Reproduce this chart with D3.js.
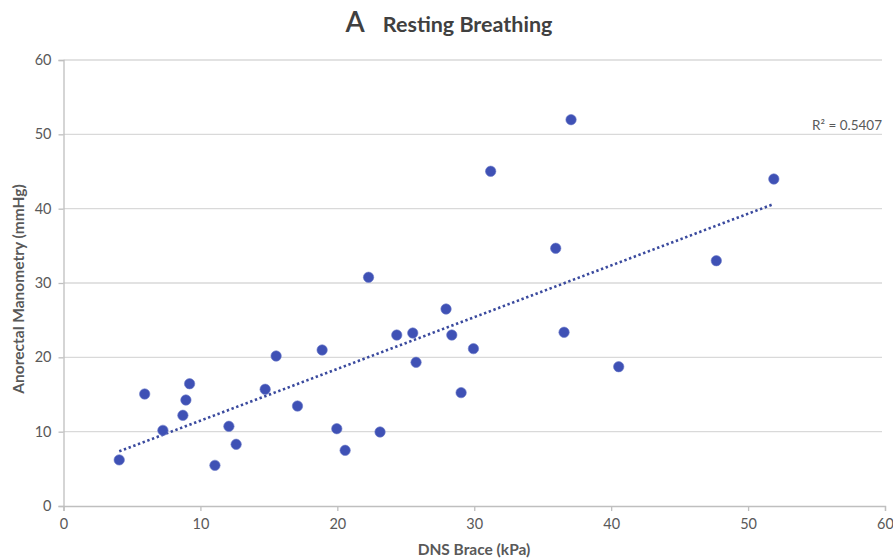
<!DOCTYPE html>
<html>
<head>
<meta charset="utf-8">
<script src="https://cdn.jsdelivr.net/npm/d3@7"></script>
<style>
  html, body { margin: 0; padding: 0; background: #fff; }
  svg { display: block; }
</style>
</head>
<body>
<svg id="chart" width="893" height="560"></svg>
<script>
// DNS Brace (kPa) readings
const braceKPa = [4.07, 5.93, 7.26, 8.72, 8.94, 9.21, 11.06, 12.08, 12.61, 14.73,
  15.53, 17.09, 18.89, 19.96, 20.57, 22.28, 23.12, 24.34, 25.51, 25.75,
  27.94, 28.36, 29.04, 29.94, 31.2, 35.95, 36.56, 37.07, 40.55, 47.68, 51.88];
// Anorectal manometry (mmHg) for the same subjects
const manometryMmHg = [6.2, 15.07, 10.18, 12.2, 14.26, 16.45, 5.47, 10.72, 8.3, 15.7,
  20.18, 13.45, 20.99, 10.4, 7.49, 30.77, 9.96, 23.0, 23.27, 19.33,
  26.5, 23.0, 15.25, 21.17, 45.03, 34.67, 23.37, 51.97, 18.74, 33.0, 43.99];
const xTicks = [0, 10, 20, 30, 40, 50, 60];
const yTicks = [0, 10, 20, 30, 40, 50, 60];
const rSquaredLabel = "R² = 0.5407";

const svg = d3.select("#chart");
const plotLeft = 63.5, plotRight = 885, plotTop = 60, plotBottom = 506;

const x = d3.scaleLinear().domain([0, 60]).range([plotLeft, plotRight]);
const y = d3.scaleLinear().domain([0, 60]).range([plotBottom, plotTop]);

const labelColor = "#595959";
const font = "Lato, 'Open Sans', sans-serif";

// horizontal gridlines
svg.append("g")
  .selectAll("line")
  .data(yTicks.filter(d => d > 0))
  .join("line")
  .attr("x1", x(0)).attr("x2", x(60) - 3)
  .attr("y1", d => y(d)).attr("y2", d => y(d))
  .attr("stroke", "#d9d9d9").attr("stroke-width", 1.3);

// axes
const xAxis = svg.append("g")
  .attr("transform", `translate(0,${plotBottom})`)
  .call(d3.axisBottom(x).tickValues(xTicks).tickSize(5).tickPadding(8));
const yAxis = svg.append("g")
  .attr("transform", `translate(${plotLeft},0)`)
  .call(d3.axisLeft(y).tickValues(yTicks).tickSize(5).tickPadding(7));

[xAxis, yAxis].forEach(g => {
  g.select(".domain").attr("stroke", "#bfbfbf").attr("stroke-width", 1.3);
  g.selectAll(".tick line").attr("stroke", "#bfbfbf").attr("stroke-width", 1.3);
  g.selectAll(".tick text")
    .attr("fill", labelColor)
    .style("font-family", font)
    .style("font-size", "14.5px");
});

// least-squares trend line over the observed range
const mx = d3.mean(braceKPa), my = d3.mean(manometryMmHg);
let sxy = 0, sxx = 0;
braceKPa.forEach((v, i) => { sxy += (v - mx) * (manometryMmHg[i] - my); sxx += (v - mx) ** 2; });
const slope = sxy / sxx, intercept = my - slope * mx;
const [xMin, xMax] = d3.extent(braceKPa);

svg.append("line")
  .attr("x1", x(xMin)).attr("y1", y(intercept + slope * xMin))
  .attr("x2", x(xMax)).attr("y2", y(intercept + slope * xMax))
  .attr("stroke", "#3a4a9e")
  .attr("stroke-width", 2.6)
  .attr("stroke-dasharray", "2.4,2.6");

// data points
svg.append("g")
  .selectAll("circle")
  .data(braceKPa.map((v, i) => [v, manometryMmHg[i]]))
  .join("circle")
  .attr("cx", d => x(d[0]))
  .attr("cy", d => y(d[1]))
  .attr("r", 5.2)
  .attr("fill", "#3f51b5")
  .attr("stroke", "#6a78c8")
  .attr("stroke-width", 0.6);

// R² annotation
svg.append("text")
  .attr("x", x(60) - 3).attr("y", y(50) - 4)
  .attr("text-anchor", "end")
  .attr("fill", labelColor)
  .style("font-family", font)
  .style("font-size", "13.5px")
  .text(rSquaredLabel);

// title
const title = svg.append("text")
  .attr("x", 449).attr("y", 32)
  .attr("text-anchor", "middle")
  .attr("fill", "#404040")
  .style("font-family", font);
title.append("tspan").style("font-size", "28px").style("font-weight", "600").text("A");
title.append("tspan").attr("dx", 18).style("font-size", "21.5px").style("font-weight", "bold").text("Resting Breathing");

// axis titles
svg.append("text")
  .attr("x", 474).attr("y", 555)
  .attr("text-anchor", "middle")
  .attr("fill", labelColor)
  .style("font-family", font)
  .style("font-size", "15.5px")
  .style("font-weight", "bold")
  .text("DNS Brace (kPa)");

svg.append("text")
  .attr("transform", `translate(24,${(plotTop + plotBottom) / 2 + 6}) rotate(-90)`)
  .attr("text-anchor", "middle")
  .attr("fill", labelColor)
  .style("font-family", font)
  .style("font-size", "15.5px")
  .style("font-weight", "bold")
  .text("Anorectal Manometry (mmHg)");
</script>
</body>
</html>
